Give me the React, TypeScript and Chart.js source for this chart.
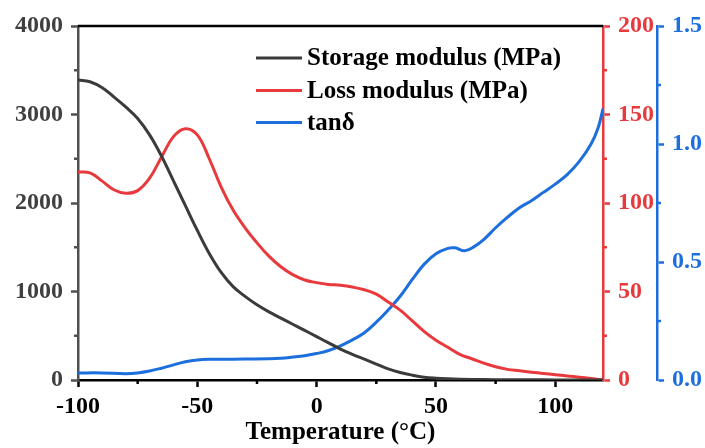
import React, { useEffect, useRef } from "react";
import { Chart, registerables } from "chart.js";

Chart.register(...registerables);

// ---- data ----
const xTickValues = [-100, -50, 0, 50, 100];
const xMinorTicks = [-75, -25, 25, 75];
const storageTickValues = [0, 1000, 2000, 3000, 4000];
const storageMinorTicks = [500, 1500, 2500, 3500];
const lossTickValues = [0, 50, 100, 150, 200];
const lossMinorTicks = [25, 75, 125, 175];
const tanTickValues = [0, 0.5, 1.0, 1.5];
const tanMinorTicks = [0.25, 0.75, 1.25];

const seriesLabels = ["Storage modulus (MPa)", "Loss modulus (MPa)", "tan\u03b4"];
const seriesColors = ["#3b3b3b", "#e8393c", "#1c6fdc"];

const storageTemp = [-100, -95, -90, -85, -80, -75, -70, -65, -60, -55, -50, -45, -40, -35, -30, -25, -20, -15, -10, -5, 0, 5, 10, 15, 20, 25, 30, 35, 40, 45, 50, 55, 60, 70, 80, 90, 100, 110, 120];
const storageValues = [3390, 3370, 3305, 3200, 3085, 2955, 2770, 2530, 2250, 1970, 1690, 1430, 1215, 1055, 945, 850, 770, 700, 630, 560, 490, 420, 350, 290, 235, 180, 125, 85, 55, 32, 20, 13, 9, 5, 3, 2, 1, 1, 0];

const lossTemp = [-100, -95, -90, -85, -80, -75, -70, -65, -60, -55, -50, -45, -40, -35, -30, -25, -20, -15, -10, -5, 0, 5, 10, 15, 20, 25, 30, 35, 40, 45, 50, 55, 60, 65, 70, 75, 80, 85, 90, 95, 100, 105, 110, 115, 120];
const lossValues = [117.5, 117, 112.5, 107.5, 105.5, 107, 114, 126, 137.5, 142, 138.5, 125, 109, 96, 86, 77.5, 70, 64, 59.5, 56.5, 55, 54, 53.5, 52.5, 51, 48.5, 44, 39.5, 33.5, 27.5, 22.5, 18.5, 14.5, 12, 9.5, 7.5, 6, 5.2, 4.4, 3.7, 3, 2.3, 1.6, 0.8, 0];

const tanTemp = [-100, -90, -80, -75, -70, -65, -60, -55, -50, -45, -40, -30, -20, -15, -10, -5, 0, 5, 10, 15, 20, 25, 30, 35, 40, 45, 50, 55, 58, 62, 66, 70, 75, 80, 85, 90, 95, 100, 105, 110, 115, 118, 120];
const tanValues = [0.03, 0.03, 0.027, 0.03, 0.038, 0.05, 0.064, 0.077, 0.085, 0.088, 0.088, 0.089, 0.09, 0.092, 0.097, 0.103, 0.112, 0.125, 0.145, 0.17, 0.2, 0.245, 0.297, 0.355, 0.425, 0.49, 0.535, 0.558, 0.56, 0.548, 0.565, 0.595, 0.645, 0.69, 0.73, 0.76, 0.795, 0.83, 0.87, 0.925, 1.0, 1.07, 1.15];

const FONT_FAMILY = "'Liberation Serif', 'Times New Roman', serif";

const toPoints = (xs: number[], ys: number[]) => xs.map((x, i) => ({ x, y: ys[i] }));

const extrasPlugin = {
  id: "extras",
  afterDraw(chart: any) {
    const ctx = chart.ctx;
    const { left, right, top } = chart.chartArea;
    ctx.save();
    // top frame line
    ctx.strokeStyle = "#000";
    ctx.lineWidth = 2.5;
    ctx.beginPath();
    ctx.moveTo(left, top);
    ctx.lineTo(right, top);
    ctx.stroke();

    const drawMinor = (id: string, values: number[], color: string, side: string) => {
      const s = chart.scales[id];
      ctx.strokeStyle = color;
      ctx.lineWidth = 2.5;
      values.forEach((v) => {
        const p = s.getPixelForValue(v);
        ctx.beginPath();
        if (side === "bottom") {
          ctx.moveTo(p, s.top);
          ctx.lineTo(p, s.top + 4);
        } else if (side === "left") {
          ctx.moveTo(s.right, p);
          ctx.lineTo(s.right - 4, p);
        } else {
          ctx.moveTo(s.left, p);
          ctx.lineTo(s.left + 4, p);
        }
        ctx.stroke();
      });
    };
    drawMinor("x", xMinorTicks, "#000", "bottom");
    drawMinor("y", storageMinorTicks, "#505050", "left");
    drawMinor("y1", lossMinorTicks, seriesColors[1], "right");
    drawMinor("y2", tanMinorTicks, seriesColors[2], "right");

    // legend
    const lx0 = 256;
    const lx1 = 302;
    const textX = 307;
    const rowY = [58, 90.5, 122.5];
    ctx.font = `bold 25px ${FONT_FAMILY}`;
    ctx.textBaseline = "middle";
    ctx.textAlign = "left";
    chart.data.datasets.forEach((ds: any, i: number) => {
      const y = rowY[i];
      ctx.strokeStyle = ds.borderColor;
      ctx.lineWidth = 3;
      ctx.beginPath();
      ctx.moveTo(lx0, y);
      ctx.lineTo(lx1, y);
      ctx.stroke();
      ctx.fillStyle = "#000";
      ctx.fillText(ds.label, textX, y + 1);
    });
    ctx.restore();
  },
};

export default function App() {
  const canvasRef = useRef<HTMLCanvasElement | null>(null);

  useEffect(() => {
    if (!canvasRef.current) return;
    const tickFont = { family: FONT_FAMILY, size: 24, weight: "bold" as const };
    const lineStyle = { borderWidth: 3, pointRadius: 0, tension: 0.4 };
    const chart = new Chart(canvasRef.current, {
      type: "line",
      data: {
        datasets: [
          {
            label: seriesLabels[0],
            data: toPoints(storageTemp, storageValues),
            borderColor: seriesColors[0],
            ...lineStyle,
            yAxisID: "y",
          },
          {
            label: seriesLabels[1],
            data: toPoints(lossTemp, lossValues),
            borderColor: seriesColors[1],
            ...lineStyle,
            yAxisID: "y1",
          },
          {
            label: seriesLabels[2],
            data: toPoints(tanTemp, tanValues),
            borderColor: seriesColors[2],
            ...lineStyle,
            yAxisID: "y2",
          },
        ],
      },
      options: {
        responsive: false,
        animation: false,
        devicePixelRatio: 1,
        layout: { padding: { top: 26, left: 0, right: 0, bottom: 0 } },
        plugins: { legend: { display: false }, tooltip: { enabled: false } },
        scales: {
          x: {
            type: "linear",
            position: "bottom",
            min: -100,
            max: 120,
            afterBuildTicks: (s: any) => {
              s.ticks = xTickValues.map((v) => ({ value: v }));
            },
            afterFit: (s: any) => {
              s.height = 68;
            },
            grid: { drawOnChartArea: false, drawTicks: true, tickLength: 7, tickWidth: 2.5, tickColor: "#000" },
            border: { display: true, color: "#000", width: 2.5 },
            ticks: { font: tickFont, color: "#000", padding: 5, maxRotation: 0, autoSkip: false, callback: (v: any) => String(v) },
            title: {
              display: true,
              text: "Temperature (\u00b0C)",
              font: { family: FONT_FAMILY, size: 25, weight: "bold" },
              color: "#000",
              padding: 0,
            },
          },
          y: {
            type: "linear",
            position: "left",
            min: 0,
            max: 4000,
            afterBuildTicks: (s: any) => {
              s.ticks = storageTickValues.map((v) => ({ value: v }));
            },
            afterFit: (s: any) => {
              s.width = 78;
            },
            grid: { drawOnChartArea: false, drawTicks: true, tickLength: 7, tickWidth: 2.5, tickColor: "#505050" },
            border: { display: true, color: "#505050", width: 2.5 },
            ticks: { font: tickFont, color: "#404040", padding: 8, callback: (v: any) => String(v) },
          },
          y1: {
            type: "linear",
            position: "right",
            weight: 0,
            min: 0,
            max: 200,
            afterBuildTicks: (s: any) => {
              s.ticks = lossTickValues.map((v) => ({ value: v }));
            },
            afterFit: (s: any) => {
              s.width = 54;
            },
            grid: { drawOnChartArea: false, drawTicks: true, tickLength: 7, tickWidth: 2.5, tickColor: seriesColors[1] },
            border: { display: true, color: seriesColors[1], width: 2.5 },
            ticks: { font: tickFont, color: seriesColors[1], padding: 8, callback: (v: any) => String(v) },
          },
          y2: {
            type: "linear",
            position: "right",
            weight: 1,
            min: 0,
            max: 1.5,
            afterBuildTicks: (s: any) => {
              s.ticks = tanTickValues.map((v) => ({ value: v }));
            },
            afterFit: (s: any) => {
              s.width = 48;
            },
            grid: { drawOnChartArea: false, drawTicks: true, tickLength: 7, tickWidth: 2.5, tickColor: seriesColors[2] },
            border: { display: true, color: seriesColors[2], width: 2.5 },
            ticks: {
              font: tickFont,
              color: seriesColors[2],
              padding: 8,
              callback: (v: any) => Number(v).toFixed(1),
            },
          },
        },
      },
      plugins: [extrasPlugin],
    } as any);
    return () => chart.destroy();
  }, []);

  return (
    <div style={{ position: "fixed", left: 0, top: 0, width: 705, height: 448, background: "#fff" }}>
      <canvas ref={canvasRef} width={705} height={448} style={{ display: "block", width: 705, height: 448 }} />
    </div>
  );
}
